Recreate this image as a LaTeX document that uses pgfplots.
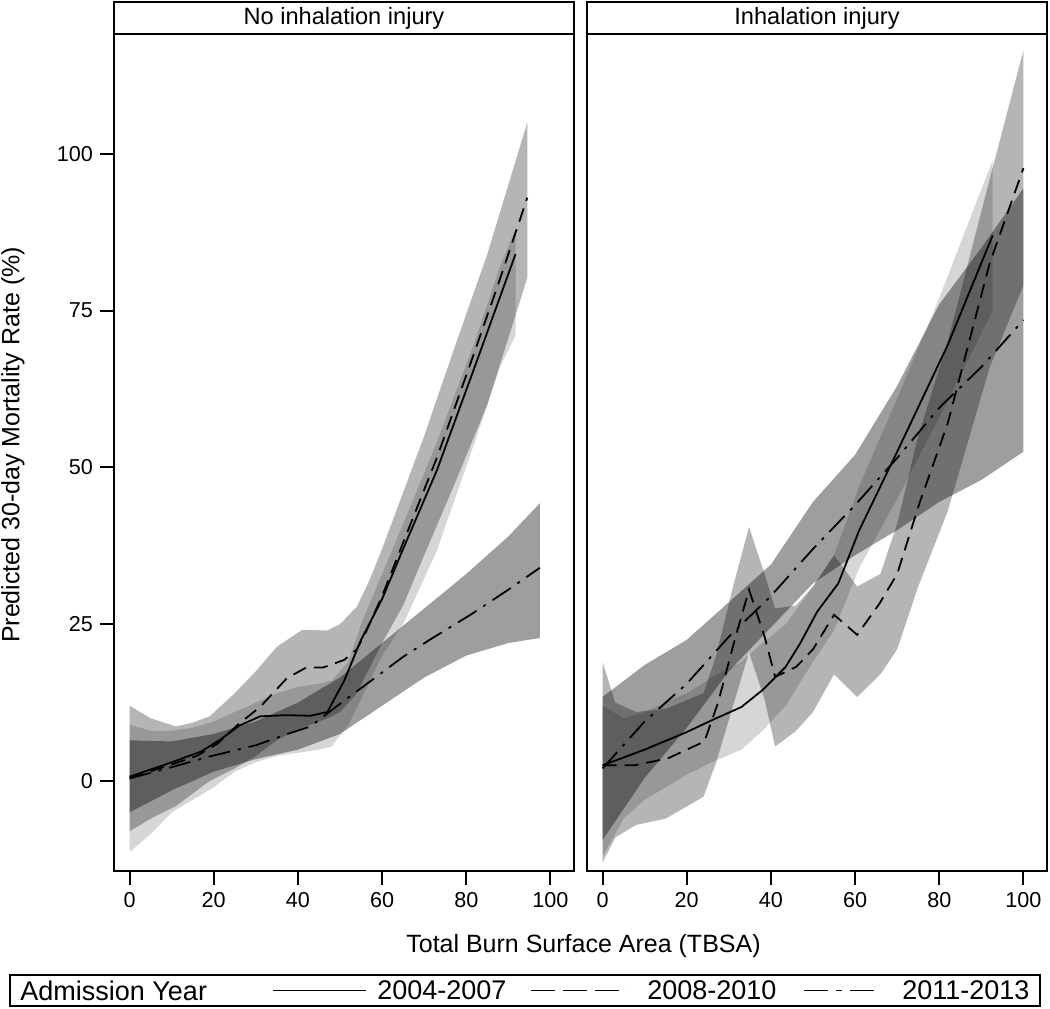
\documentclass[border=0pt]{standalone}
\usepackage{fontspec}
\setmainfont{Liberation Sans}
\usepackage{pgfplots}
\pgfplotsset{compat=1.18}

\tikzset{
  bandA/.style={draw=none, fill=black, fill opacity=0.16},
  bandB/.style={draw=none, fill=black, fill opacity=0.29},
  bandC/.style={draw=none, fill=black, fill opacity=0.38},
  lineA/.style={black, line width=0.9pt, solid},
  lineB/.style={black, line width=0.9pt, dash pattern=on 7pt off 4pt},
  lineC/.style={black, line width=0.9pt, dash pattern=on 11pt off 4pt on 1.5pt off 4pt},
}
\pgfplotsset{
  panel/.style={
    scale only axis, width=230pt, height=418.5pt, anchor=south west,
    xmin=-3.7, xmax=105.6, ymin=-14.35, ymax=119.1,
    xtick={0,20,...,100}, ytick={0,25,50,75,100},
    tick align=outside, major tick length=7pt,
    xtick pos=bottom, ytick pos=left,
    axis line style={line width=1pt},
    major tick style={black, line width=1pt},
    tick label style={font=\fontsize{10.8}{12}\selectfont},
    /pgf/number format/assume math mode=true,
  },
}

\begin{document}
\begin{tikzpicture}
\path[use as bounding box] (0,0) rectangle (525pt,504pt);

% ---- left panel: no inhalation injury
\begin{axis}[panel, at={(57pt,68.5pt)}]
 % 2004-2007 band
 \addplot[bandA] coordinates {
  (0,9) (5,8) (10,8) (15,8.5) (20,9.5) (25,11) (30,12.5) (35,14) (40,15) (45,15.5)
  (48,16) (52,19) (55,25) (60,33) (65,41) (73,54) (82,70) (88,82) (91.7,88)
  (91.7,71) (88,66) (82,54) (73,36.7) (65,25) (60,20) (55,13) (52,9) (48,5.5)
  (45,5) (40,4.5) (35,4) (30,3) (25,1.5) (20,-1) (15,-3) (10,-5) (5,-8.5) (0,-11.3)} --cycle;
 % 2008-2010 band
 \addplot[bandB] coordinates {
  (0,12) (5,10) (11,8.7) (15,9.3) (19,10.3) (25,14) (30,17.5) (35,21.4) (41,24.1)
  (47,24) (50,25) (54,27.8) (57,32) (60,37) (65,46) (70,55) (77,68.7) (85,84) (94.5,105)
  (94.5,80.2) (85,60) (77,47) (70,36) (65,28) (60,22) (57,18) (54,14) (50,11) (47,10)
  (41,8.5) (35,6.5) (30,4) (25,2) (19,0) (15,-2) (11,-4) (5,-6) (0,-8)} --cycle;
 % 2011-2013 band
 \addplot[bandC] coordinates {
  (0,6.5) (10,6.3) (20,7.5) (30,9.5) (40,12.5) (50,16.5) (60,22) (70,27.5) (80,33)
  (90,39) (97.5,44.3)
  (97.5,22.8) (90,22) (80,20) (70,16.5) (60,12) (50,7.5) (40,5) (30,3.5) (20,1.5)
  (10,-1.5) (0,-5)} --cycle;
 \addplot[lineA] coordinates {
  (0,0.7) (8,2.5) (17,4.7) (22,6.8) (26,8.8) (31,10.3) (37,10.5) (43,10.4) (47,11)
  (51,16) (55,22.5) (60,29) (65,37) (73,49.5) (82,66) (91.7,84)};
 \addplot[lineB] coordinates {
  (0,0.5) (8,2.2) (16,4) (21,6) (25.6,8.9) (31,11.8) (37.4,16.4) (42,18.1) (46,18.1)
  (51,19.3) (54,21) (56,23.5) (60,29.5) (65,38) (73,51.5) (81.6,67.7) (88,80) (94.5,93)};
 \addplot[lineC] coordinates {
  (0,0.4) (10,2.2) (19,3.9) (30,5.7) (38,7.6) (43,8.7) (49,11.8) (55,14.8) (65,19.8)
  (72,22.8) (81,26.5) (90,30.5) (97.5,34)};
\end{axis}

% ---- right panel: inhalation injury
\begin{axis}[panel, at={(293.5pt,68.5pt)}, ytick=\empty]
 \addplot[bandA] coordinates {
  (0,12) (5,10) (10,11) (20,14) (26,16.5) (33,19) (38,22) (43.5,25) (50,31) (55,36)
  (61,47) (70,61) (80,77) (92.7,99)
  (92.7,75) (80,58) (70,45) (61,34) (55,24) (50,19) (43.5,12) (38,8) (33,5) (26,3)
  (20,1) (10,-3) (5,-6) (0,-12)} --cycle;
 \addplot[bandB] coordinates {
  (0,19) (3,12.5) (8,11) (15,11.5) (24,14) (27,20) (31,31) (34.8,40.5) (38.5,33)
  (41,27.5) (46,28) (50,31) (55,36) (60.5,31) (66,33) (70,41) (75,55) (82,70) (92,96)
  (100,116.5)
  (100,79) (92,66) (82,43) (75,31) (70,21) (66,17) (60.5,13.4) (55,17) (50,11) (46,8)
  (41,5.5) (38.5,13) (34.8,20.5) (31,12) (27,3) (24,-2.5) (15,-6) (8,-7) (3,-9) (0,-13)} --cycle;
 \addplot[bandC] coordinates {
  (0,13.4) (10,18.5) (20,22.5) (30,28.5) (40,34.5) (50,44.5) (60,52) (70,63) (80,76)
  (90,85) (100,94.5)
  (100,52.5) (90,48) (80,44.5) (70,40) (60,36) (50,31.5) (40,24.5) (30,17.5) (20,8.5)
  (10,0.5) (0,-9.4)} --cycle;
 \addplot[lineA] coordinates {
  (0,2.5) (10,5) (20,7.8) (26,9.7) (33,11.8) (38,14.5) (43.5,18.2) (47,22) (51,27)
  (56,31.5) (61,40) (70,52.5) (82,69.5) (92.7,87)};
 \addplot[lineB] coordinates {
  (0,2.5) (7.6,2.5) (15.5,3.6) (24.2,6.3) (27.4,12.4) (31.4,22.5) (34.8,30.5) (38.5,23)
  (41,16.6) (46,18.2) (50,21) (55,26.5) (60.5,23.3) (65.8,28.3) (70,33) (75.3,44.3)
  (82,57) (92,82.6) (100,97.7)};
 \addplot[lineC] coordinates {
  (0,2) (10,9.5) (20,15.5) (30,23) (40,29.5) (50,37) (60,44) (70,51.5) (80,59.5)
  (90,66) (100,73.5)};
\end{axis}

% panel headers
\draw[line width=1pt] (57pt,487pt) rectangle (287pt,503pt);
\node[font=\fontsize{11.8}{13}\selectfont] at (172pt,495pt) {No inhalation injury};
\draw[line width=1pt] (293.5pt,487pt) rectangle (523.5pt,503pt);
\node[font=\fontsize{11.8}{13}\selectfont] at (408.5pt,495pt) {Inhalation injury};

% axis labels
\node[rotate=90, font=\fontsize{12.5}{14}\selectfont] at (6.5pt,281.5pt) {Predicted 30-day Mortality Rate (\%)};
\node[font=\fontsize{12.5}{14}\selectfont] at (291.75pt,31pt) {Total Burn Surface Area (TBSA)};

% legend
\draw[line width=0.8pt] (5pt,1pt) rectangle (520pt,16.5pt);
\begin{scope}[font=\fontsize{13.5}{15}\selectfont]
 \node[anchor=west, inner sep=0pt] at (10pt,8.75pt) {Admission Year};
 \draw[lineA] (136.5pt,8.75pt) -- (183pt,8.75pt);
 \node[anchor=west, inner sep=0pt] at (188.5pt,8.75pt) {2004-2007};
 \draw[black, line width=0.9pt, dash pattern=on 12pt off 4pt] (265.5pt,8.75pt) -- (313.5pt,8.75pt);
 \node[anchor=west, inner sep=0pt] at (323.5pt,8.75pt) {2008-2010};
 \draw[black, line width=0.9pt, dash pattern=on 12pt off 4pt on 3pt off 4pt] (402pt,8.75pt) -- (440pt,8.75pt);
 \node[anchor=west, inner sep=0pt] at (451pt,8.75pt) {2011-2013};
\end{scope}
\end{tikzpicture}
\end{document}
